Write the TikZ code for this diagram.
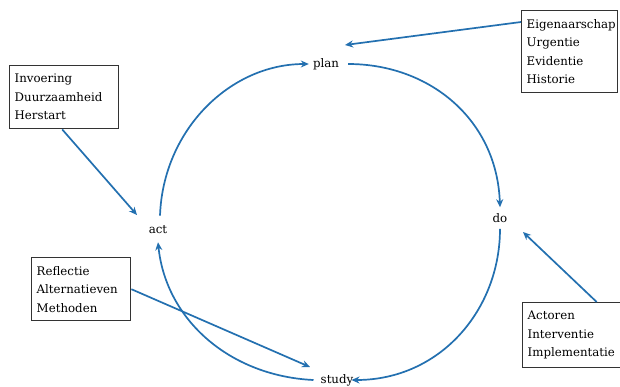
\documentclass[tikz,border=0pt]{standalone}
\usepackage{fontspec}
\setmainfont{DejaVu Serif}
\usetikzlibrary{arrows.meta}
\definecolor{cycleblue}{RGB}{35,112,176}
\begin{document}
\begin{tikzpicture}[x=1pt,y=-1pt,
  flow/.style={draw=cycleblue,line width=1.7pt,-{Stealth[length=8pt,width=7pt]}},
  infobox/.style={draw=black!80,line width=1.4pt,align=left,font=\fontsize{11.8}{18.5}\selectfont,inner xsep=5pt,inner ysep=4pt,anchor=north west},
  phase/.style={font=\fontsize{11.8}{14}\selectfont,inner sep=1pt}]
\useasboundingbox (0,0) rectangle (620,386);
\fill[white] (0,0) rectangle (620,386);

% the four phases of the cycle
\node[phase] (plan) at (326,64) {plan};
\node[phase] (do) at (500,218) {do};
\node[phase] (study) at (337,380) {study};
\node[phase] (act) at (158,230) {act};

% cycle arcs
\draw[flow] ([xshift=2pt,yshift=9pt]act.north) .. controls (163,130) and (230,64) .. ([xshift=-3pt]plan.west);
\draw[flow] ([xshift=8pt]plan.east) .. controls (430,64) and (497,120) .. ([yshift=5pt]do.north);
\draw[flow] ([yshift=-5pt]do.south) .. controls (500,310) and (440,380) .. ([xshift=-3pt]study.east);
\draw[flow] ([xshift=-6pt]study.west) .. controls (230,376) and (166,320) .. ([yshift=-7pt]act.south);

% side notes
\node[infobox,minimum width=109pt,minimum height=63pt,text width=99pt] (b1) at (9,65) {Invoering\\Duurzaamheid\\Herstart};
\node[infobox,minimum width=96pt,minimum height=82pt,text width=86pt] (b2) at (521,10) {Eigenaarschap\\Urgentie\\Evidentie\\Historie};
\node[infobox,minimum width=99pt,minimum height=63pt,text width=89pt] (b3) at (31,257) {Reflectie\\Alternatieven\\Methoden};
\node[infobox,minimum width=100pt,minimum height=65pt,text width=90pt] (b4) at (522,302) {Actoren\\Interventie\\Implementatie};

\coordinate (t1) at (137,215);
\coordinate (t2) at (345,45);
\coordinate (t3) at (310,367);
\coordinate (t4) at (523,232);
\draw[flow] ([xshift=-2pt]b1.south) -- (t1);
\draw[flow] ([yshift=-12pt]b2.north west) -- (t2);
\draw[flow] (b3.east) -- (t3);
\draw[flow] ([xshift=24pt]b4.north) -- (t4);
\end{tikzpicture}
\end{document}
